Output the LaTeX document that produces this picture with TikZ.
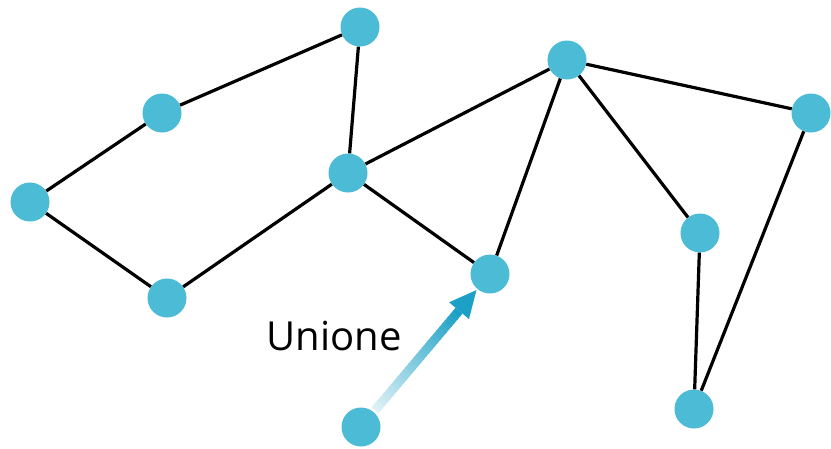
\documentclass[tikz,border=0pt]{standalone}
\usepackage{fontspec}
\setmainfont{Open Sans}
\usetikzlibrary{calc}
\definecolor{nodec}{RGB}{76,187,214}
\definecolor{arrowc}{RGB}{28,160,198}
\tikzset{
  vert/.style={circle,fill=nodec,inner sep=0pt,minimum size=39pt},
  edge/.style={draw=black,line width=3.2pt},
}
\begin{document}
\begin{tikzpicture}[x=1pt,y=-1pt]
\useasboundingbox (0,0) rectangle (831,448);
\node[vert] (A) at (360,27) {};
\node[vert] (B) at (162,113) {};
\node[vert] (C) at (30,202) {};
\node[vert] (D) at (167,298) {};
\node[vert] (E) at (348,173) {};
\node[vert] (F) at (567,60) {};
\node[vert] (G) at (811,113) {};
\node[vert] (H) at (700,233) {};
\node[vert] (I) at (490,274) {};
\node[vert] (J) at (694,409) {};
\node[vert] (K) at (361,427) {};
\draw[edge] (A) -- (B);
\draw[edge] (A) -- (E);
\draw[edge] (B) -- (C);
\draw[edge] (C) -- (D);
\draw[edge] (D) -- (E);
\draw[edge] (E) -- (F);
\draw[edge] (E) -- (I);
\draw[edge] (F) -- (I);
\draw[edge] (F) -- (H);
\draw[edge] (F) -- (G);
\draw[edge] (H) -- (J);
\draw[edge] (G) -- (J);
% gradient arrow from K to I
\coordinate (s) at ($(K.center)!22pt!(I.center)$);
\coordinate (t) at ($(I.center)!21pt!(K.center)$);
\coordinate (h) at ($(t)!27pt!(s)$);
\foreach \i in {0,...,29}{
  \pgfmathsetmacro{\pa}{\i/30}
  \pgfmathsetmacro{\pb}{(\i+1.3)/30}
  \pgfmathsetmacro{\pc}{15+85*\i/29}
  \draw[line width=9pt,draw=arrowc!\pc!white]
    ($(s)!\pa!(h)$) -- ($(s)!{min(\pb,1)}!(h)$);
}
\fill[arrowc] (t) -- ($(h)!13pt!90:(t)$) -- ($(h)!13pt!-90:(t)$) -- cycle;
\node[font=\fontsize{40}{46}\selectfont] (L) at (334,336) {Unione};
\end{tikzpicture}
\end{document}
